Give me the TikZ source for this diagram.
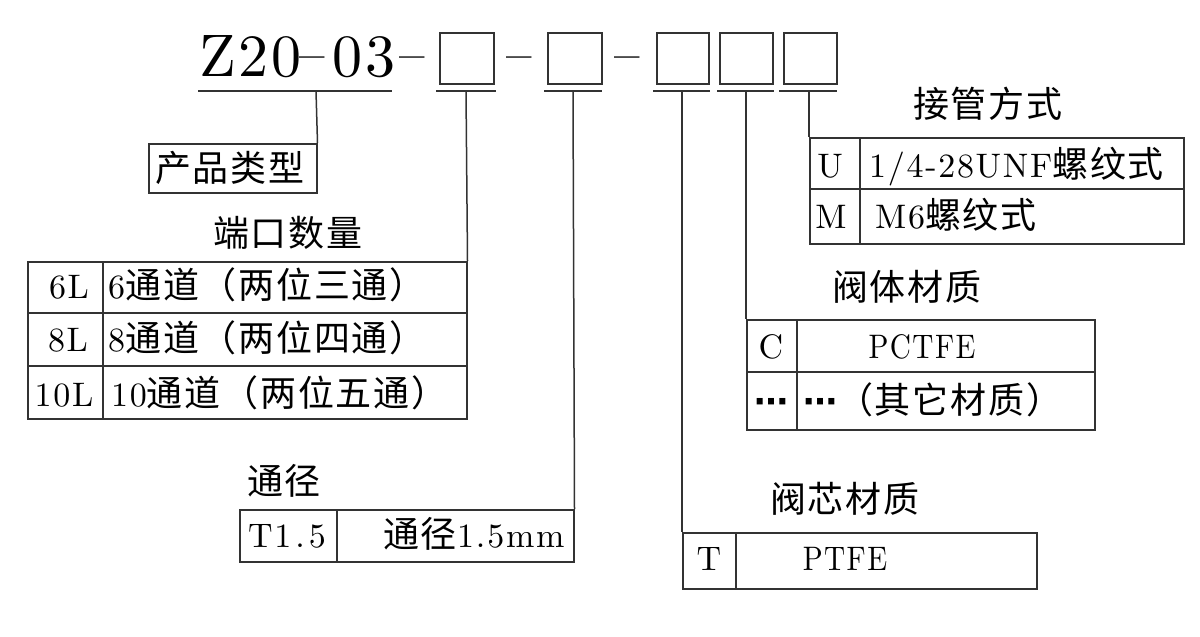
\documentclass[tikz,border=0pt]{standalone}
\usepackage{fontspec}
\setmainfont{lmroman10-regular.otf}
\newfontfamily\latf{lmroman10-regular.otf}[LetterSpace=5]
\newfontfamily\latz{lmroman10-regular.otf}[LetterSpace=5]
\newfontfamily\cjk{Noto Sans CJK SC}[LetterSpace=5]
\newfontfamily\djv{DejaVu Sans}
\newcommand\fsL{\fontsize{34}{40}\selectfont\latf}
\newcommand\fsC{\fontsize{36}{40}\selectfont\cjk}
\newcommand\fsZ{\fontsize{60}{66}\selectfont\latz}
\newcommand\zdash{\raisebox{3pt}{\scalebox{0.85}[1]{–}}}
\newcommand\dotsym{{\djv\bfseries\fontsize{34}{34}\selectfont ⋯}}
\newcommand\narrow[1]{\scalebox{0.86}[1]{#1}}
\begin{document}
\begin{tikzpicture}[x=1pt,y=-1pt,
  ln/.style={line width=1.5pt, draw=black!80},
  ph/.style={ln, minimum height=51pt, inner sep=0, anchor=north west},
  txt/.style={inner sep=0, anchor=base west, text=black},
  ctxt/.style={inner sep=0, anchor=base, text=black}]
\useasboundingbox (0,0) rectangle (1200,637);

% ---- header code ----
\node[txt] (code1) at (199,76) {\fsZ Z20};
\node[ctxt] (d0) at (312,76) {\fsZ\zdash};
\node[txt] (code2) at (332,76) {\fsZ 03};
\node[ctxt] (d1) at (412,76) {\fsZ\zdash};
\node[ph, minimum width=54pt] (b1) at (439,32) {};
\node[ctxt] (d2) at (519,76) {\fsZ\zdash};
\node[ph, minimum width=54pt] (b2) at (547,32) {};
\node[ctxt] (d3) at (627,76) {\fsZ\zdash};
\node[ph, minimum width=52pt] (b3) at (656,32) {};
\node[ph, minimum width=53pt] (b4) at (719,32) {};
\node[ph, minimum width=53pt] (b5) at (783,32) {};

% underlines
\draw[ln] (198,91) -- (392,91);
\draw[ln] (436,91) -- (496,91);
\draw[ln] (544,91) -- (602,91);
\draw[ln] (653,91) -- (710,91);
\draw[ln] (717,91) -- (774,91);
\draw[ln] (779,91) -- (837,91);
\coordinate (u0) at (316,91);
\coordinate (u1) at (466,91);
\coordinate (u2) at (573,91);
\coordinate (u3) at (682,91);
\coordinate (u4) at (746,91);
\coordinate (u5) at (809,91);

% ---- product type ----
\node[ln, draw, inner sep=0, anchor=north west, minimum width=168pt, minimum height=49pt] (type) at (148,143) {};
\node[txt] at (155,181) {\fsC 产品类型};
\draw[ln] (u0) -- (type.north east);

% ---- ports ----
\node[txt] at (213,246) {\fsC 端口数量};
\node[ln, draw, inner sep=0, anchor=north west, minimum width=439pt, minimum height=157pt] (ports) at (27,261) {};
\draw[ln] (27,313) -- (466,313);
\draw[ln] (27,366) -- (466,366);
\draw[ln] (103,261) -- (103,418);
\draw[ln] (u1) -- (ports.north east);
\node[ctxt] at (69,298) {\fsL 6L};
\node[ctxt] at (68,351) {\fsL 8L};
\node[ctxt] at (64,406) {\fsL 10L};
\node[txt] at (108,298) {\fsL 6\fsC 通道（两位三通）};
\node[txt] at (108,351) {\fsL 8\fsC 通道（两位四通）};
\node[txt] at (111,406) {\fsL 10\fsC 通道（两位五通）};

% ---- bore ----
\node[txt] at (247,494) {\fsC 通径};
\node[ln, draw, inner sep=0, anchor=north west, minimum width=334pt, minimum height=52pt] (bore) at (239,509) {};
\draw[ln] (337,509) -- (337,561);
\draw[ln] (u2) -- (bore.north east);
\node[txt] at (248,547) {\fsL T1\kern4pt.\kern4pt5};
\node[txt] at (383,547) {\fsC 通径\fsL 1\kern2pt.\kern2pt5mm};

% ---- core material ----
\node[txt] at (770,512) {\fsC 阀芯材质};
\node[ln, draw, inner sep=0, anchor=north west, minimum width=354pt, minimum height=56pt] (core) at (682,532) {};
\draw[ln] (736,532) -- (736,588);
\draw[ln] (u3) -- (core.north west);
\node[ctxt] at (709,570) {\fsL T};
\node[ctxt] at (845,570) {\fsL\narrow{PTFE}};

% ---- body material ----
\node[txt] at (832,300) {\fsC 阀体材质};
\node[ln, draw, inner sep=0, anchor=north west, minimum width=348pt, minimum height=110pt] (body) at (746,319) {};
\draw[ln] (746,372) -- (1094,372);
\draw[ln] (797,319) -- (797,429);
\draw[ln] (u4) -- (body.north west);
\node[ctxt] at (771,358) {\fsL C};
\node[ctxt] at (922,358) {\fsL\narrow{PCTFE}};
\node[ctxt] at (771,413) {\dotsym};
\node[txt] at (803,413) {\dotsym\fsC （其它材质）};

% ---- connection ----
\node[txt] at (913,117) {\fsC 接管方式};
\node[ln, draw, inner sep=0, anchor=north west, minimum width=374pt, minimum height=106pt] (conn) at (809,137) {};
\draw[ln] (809,189) -- (1183,189);
\draw[ln] (860,137) -- (860,243);
\draw[ln] (u5) -- (conn.north west);
\node[ctxt] at (830,177) {\fsL U};
\node[txt] at (869,177) {\fsL 1/4-28UNF\fsC 螺纹式};
\node[ctxt] at (831,228) {\fsL M};
\node[txt] at (875,228) {\fsL M6\fsC 螺纹式};
\end{tikzpicture}
\end{document}
